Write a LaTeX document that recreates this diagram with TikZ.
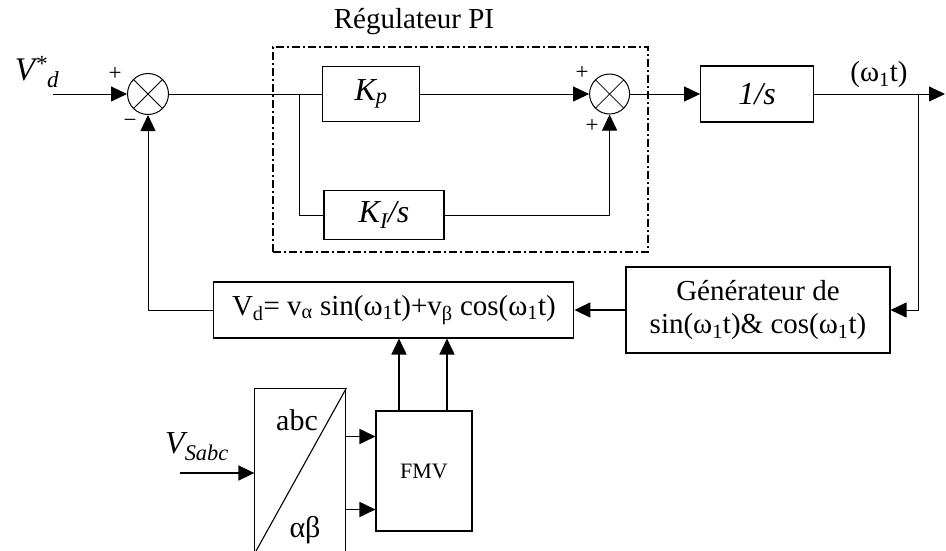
\documentclass[tikz,border=0pt]{standalone}
\usepackage{fontspec}
\setmainfont{Liberation Serif}
\usetikzlibrary{arrows.meta, positioning, fit, calc}

\begin{document}
\begin{tikzpicture}[
    x=1pt, y=-1pt,
    txt/.style={font=\fontsize{29}{33}\selectfont},
    mathtxt/.style={font=\fontsize{32}{36}\selectfont\itshape},
    sign/.style={font=\fontsize{23}{25}\selectfont, inner sep=0pt},
    block/.style={rectangle, draw, line width=1.1pt, inner sep=0pt, align=center},
    sumnode/.style={circle, draw, line width=1pt, minimum size=41pt, inner sep=0pt,
        path picture={\draw[line width=0.8pt] (path picture bounding box.north west) -- (path picture bounding box.south east)
            (path picture bounding box.north east) -- (path picture bounding box.south west);}},
    pibox/.style={rectangle, draw, line width=1.5pt, inner sep=0pt, dash pattern=on 8pt off 3pt on 2pt off 3pt},
    arr/.style={-{Triangle[length=16pt, width=15pt]}, line width=0.9pt},
    thickarr/.style={-{Triangle[length=16pt, width=15pt]}, line width=1.8pt},
    line/.style={line width=0.9pt},
]
    \useasboundingbox (0,0) rectangle (946,551);

    % Forward path
    \node[sumnode] (sum1) at (148,94) {};
    \node[block, mathtxt, minimum width=97pt, minimum height=55pt, right=153pt of sum1] (kp) {K\textsubscript{p}};
    \node[sumnode, minimum size=40pt, right=169pt of kp] (sum2) {};
    \node[block, mathtxt, minimum width=113pt, minimum height=56pt, right=70pt of sum2] (inv) {1/s};
    \node[block, mathtxt, minimum width=120pt, minimum height=49pt] (ki) at (384,215) {K\textsubscript{I}/s};

    % PI frame
    \node[pibox, fit={(273,47) (648,252)}] (pi) {};
    \node[txt] (pititle) at (414,22) {Régulateur PI};

    % Feedback path
    \node[block, txt, minimum width=264pt, minimum height=86pt] (gen) at (758,310) {Générateur de\\sin(ω\textsubscript{1}t)\& cos(ω\textsubscript{1}t)};
    \node[block, txt, minimum width=360pt, minimum height=56pt, left=51pt of gen] (vd)
        {V\textsubscript{d}= v\textsubscript{α} sin(ω\textsubscript{1}t)+v\textsubscript{β} cos(ω\textsubscript{1}t)};

    % Measurement
    \node[block, minimum width=96pt, minimum height=120pt, font=\fontsize{22}{24}\selectfont] (fmv) at (424,471) {FMV};
    \node[block, minimum width=91pt, minimum height=165pt, left=29pt of fmv] (conv) {};
    \draw[line width=1.1pt] (conv.south west) -- (conv.north east);
    \node[font=\fontsize{30}{32}\selectfont] (abc) at (297,420) {abc};
    \node[font=\fontsize{30}{32}\selectfont] (ab) at (305,530) {αβ};

    % Labels
    \node[font=\fontsize{33}{36}\selectfont\itshape] (vref) at (37,72) {V\textsuperscript{*}\textsubscript{d}};
    \node[font=\fontsize{32}{36}\selectfont\itshape] (vsabc) at (197,447) {V\textsubscript{Sabc}};
    \node[txt] (wt) at (879,75) {(ω\textsubscript{1}t)};
    \node[sign] (p1) at (115,74) {+};
    \node[sign] (m1) at (130,123) {−};
    \node[sign] (p2) at (582,73) {+};
    \node[sign] (p3) at (592,126) {+};

    \coordinate (vin) at (53,94);
    \coordinate (br1) at (299,94);
    \coordinate (br2) at (918,94);
    \coordinate (out) at (945,94);
    \coordinate (vsin) at (180,473);

    % Connectors
    \draw[arr] (vin) -- (sum1);
    \draw[line] (sum1) -- (kp);
    \draw[line] (br1) |- (ki.west);
    \draw[arr] (kp) -- (sum2);
    \draw[arr] (ki.east) -| (sum2.south);
    \draw[arr] (sum2) -- (inv);
    \draw[arr] (inv.east) -- (out);
    \draw[arr] (br2) |- (gen.east);
    \draw[thickarr] (gen) -- (vd);
    \draw[arr] (vd.west) -| (sum1.south);
    \draw[thickarr] ([xshift=-25pt]fmv.north) -- ([xshift=-25pt]fmv.north |- vd.south);
    \draw[thickarr] ([xshift=23pt]fmv.north) -- ([xshift=23pt]fmv.north |- vd.south);
    \draw[thickarr] ([yshift=34.5pt]conv.east) -- ([yshift=34.5pt]conv.east -| fmv.west);
    \draw[thickarr] ([yshift=-38.5pt]conv.east) -- ([yshift=-38.5pt]conv.east -| fmv.west);
    \draw[thickarr] (vsin) -- (vsin -| conv.west);
\end{tikzpicture}
\end{document}
